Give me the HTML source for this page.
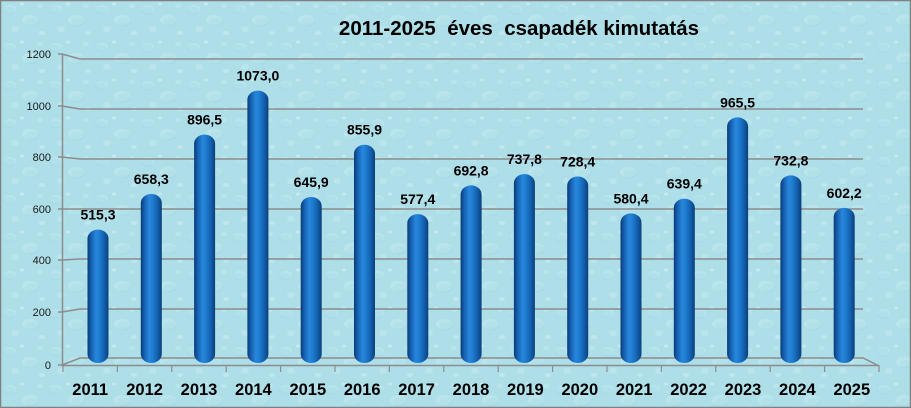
<!DOCTYPE html>
<html>
<head>
<meta charset="utf-8">
<style>
  html,body{margin:0;padding:0;background:#ffffff;}
  svg{display:block;}
  text{font-family:"Liberation Sans",Arial,sans-serif;}
</style>
</head>
<body>
<svg width="911" height="408" viewBox="0 0 911 408" xmlns="http://www.w3.org/2000/svg">
  <defs>
    <pattern id="drops" x="0" y="0" width="46" height="38" patternUnits="userSpaceOnUse">
      <rect width="46" height="38" fill="#aedee8"/>
      <ellipse cx="10" cy="9" rx="6" ry="4" fill="#c4ebf2" opacity="0.55"/>
      <ellipse cx="9" cy="10.5" rx="6" ry="4" fill="#94d2de" opacity="0.25"/>
      <ellipse cx="30" cy="20" rx="8" ry="5" fill="#c6ecf2" opacity="0.5"/>
      <ellipse cx="32" cy="22" rx="7" ry="4.5" fill="#96d2de" opacity="0.22"/>
      <ellipse cx="15" cy="29" rx="4" ry="3" fill="#c6ecf2" opacity="0.5"/>
      <ellipse cx="40" cy="6" rx="3" ry="2" fill="#c6ecf2" opacity="0.5"/>
      <ellipse cx="22" cy="4" rx="2" ry="1.5" fill="#d6f2f6" opacity="0.6"/>
      <ellipse cx="42" cy="33" rx="3" ry="2" fill="#d0f0f5" opacity="0.5"/>
    </pattern>
    <linearGradient id="bar" x1="0" y1="0" x2="1" y2="0">
      <stop offset="0" stop-color="#093a72"/>
      <stop offset="0.15" stop-color="#135cab"/>
      <stop offset="0.4" stop-color="#2886dc"/>
      <stop offset="0.55" stop-color="#207ed2"/>
      <stop offset="0.8" stop-color="#125fad"/>
      <stop offset="1" stop-color="#0a3f79"/>
    </linearGradient>
  </defs>

  <rect x="0" y="0" width="911" height="408" fill="url(#drops)"/>
  <rect x="0.5" y="0.5" width="910" height="407" fill="none" stroke="#808080" stroke-width="1.5"/>

  <text x="519" y="35" font-size="20.5" font-weight="bold" text-anchor="middle" fill="#000" xml:space="preserve">2011-2025  éves  csapadék kimutatás</text>

  <g stroke="#8c8c8c" stroke-width="1.5" fill="none">
    <polyline points="58,54 62,54 80,59 863,59"/>
    <polyline points="58,106 62,106 80,109 863,109"/>
    <polyline points="58,157 62,157 80,159 863,159"/>
    <polyline points="58,209 62,209 80,209 863,209"/>
    <polyline points="58,260 62,260 80,259 863,259"/>
    <polyline points="58,312 62,312 80,309 863,309"/>
    <polyline points="58,365 62,365 80,358 863,358 879,366"/>
    <line x1="62" y1="365.5" x2="879" y2="365.5"/>
    <line x1="62.5" y1="54" x2="62.5" y2="366"/>
  </g>
  <g stroke="#8c8c8c" stroke-width="1.2">
    <line x1="63" y1="365" x2="63" y2="372"/>
    <line x1="117.4" y1="365" x2="117.4" y2="372"/>
    <line x1="171.8" y1="365" x2="171.8" y2="372"/>
    <line x1="226.2" y1="365" x2="226.2" y2="372"/>
    <line x1="280.6" y1="365" x2="280.6" y2="372"/>
    <line x1="335" y1="365" x2="335" y2="372"/>
    <line x1="389.4" y1="365" x2="389.4" y2="372"/>
    <line x1="443.8" y1="365" x2="443.8" y2="372"/>
    <line x1="498.2" y1="365" x2="498.2" y2="372"/>
    <line x1="552.6" y1="365" x2="552.6" y2="372"/>
    <line x1="607" y1="365" x2="607" y2="372"/>
    <line x1="661.4" y1="365" x2="661.4" y2="372"/>
    <line x1="715.8" y1="365" x2="715.8" y2="372"/>
    <line x1="770.2" y1="365" x2="770.2" y2="372"/>
    <line x1="824.6" y1="365" x2="824.6" y2="372"/>
    <line x1="879" y1="365" x2="879" y2="372"/>
  </g>

  <g font-size="11" fill="#1a1a1a" text-anchor="end">
    <text x="51" y="58">1200</text>
    <text x="51" y="110">1000</text>
    <text x="51" y="161">800</text>
    <text x="51" y="213">600</text>
    <text x="51" y="264">400</text>
    <text x="51" y="316">200</text>
    <text x="51" y="369">0</text>
  </g>

  <g fill="url(#bar)">
    <rect x="87.5"  y="229.6" width="21" height="133.4" rx="10.5" ry="9"/>
    <rect x="140.8" y="194.0" width="21" height="169.0" rx="10.5" ry="9"/>
    <rect x="194.1" y="134.6" width="21" height="228.4" rx="10.5" ry="9"/>
    <rect x="247.4" y="90.6"  width="21" height="272.4" rx="10.5" ry="9"/>
    <rect x="300.7" y="197.0" width="21" height="166.0" rx="10.5" ry="9"/>
    <rect x="354.0" y="144.7" width="21" height="218.3" rx="10.5" ry="9"/>
    <rect x="407.3" y="214.1" width="21" height="148.9" rx="10.5" ry="9"/>
    <rect x="460.6" y="185.4" width="21" height="177.6" rx="10.5" ry="9"/>
    <rect x="513.9" y="174.1" width="21" height="188.9" rx="10.5" ry="9"/>
    <rect x="567.2" y="176.5" width="21" height="186.5" rx="10.5" ry="9"/>
    <rect x="620.5" y="213.4" width="21" height="149.6" rx="10.5" ry="9"/>
    <rect x="673.8" y="198.7" width="21" height="164.3" rx="10.5" ry="9"/>
    <rect x="727.1" y="117.4" width="21" height="245.6" rx="10.5" ry="9"/>
    <rect x="780.4" y="175.4" width="21" height="187.6" rx="10.5" ry="9"/>
    <rect x="833.7" y="207.9" width="21" height="155.1" rx="10.5" ry="9"/>
  </g>

  <g font-size="14" font-weight="bold" fill="#000" text-anchor="middle">
    <text x="98"    y="219.6">515,3</text>
    <text x="151.3" y="184.0">658,3</text>
    <text x="204.6" y="124.6">896,5</text>
    <text x="257.9" y="80.6">1073,0</text>
    <text x="311.2" y="187.0">645,9</text>
    <text x="364.5" y="134.7">855,9</text>
    <text x="417.8" y="204.1">577,4</text>
    <text x="471.1" y="175.4">692,8</text>
    <text x="524.4" y="164.1">737,8</text>
    <text x="577.7" y="166.5">728,4</text>
    <text x="631.0" y="203.4">580,4</text>
    <text x="684.3" y="188.7">639,4</text>
    <text x="737.6" y="107.4">965,5</text>
    <text x="790.9" y="165.4">732,8</text>
    <text x="844.2" y="197.9">602,2</text>
  </g>

  <g font-size="16.5" font-weight="bold" fill="#000" text-anchor="middle">
    <text x="90.2"  y="395">2011</text>
    <text x="144.6" y="395">2012</text>
    <text x="199.0" y="395">2013</text>
    <text x="253.4" y="395">2014</text>
    <text x="307.8" y="395">2015</text>
    <text x="362.2" y="395">2016</text>
    <text x="416.6" y="395">2017</text>
    <text x="471.0" y="395">2018</text>
    <text x="525.4" y="395">2019</text>
    <text x="579.8" y="395">2020</text>
    <text x="634.2" y="395">2021</text>
    <text x="688.6" y="395">2022</text>
    <text x="743.0" y="395">2023</text>
    <text x="797.4" y="395">2024</text>
    <text x="851.8" y="395">2025</text>
  </g>
</svg>
</body>
</html>
